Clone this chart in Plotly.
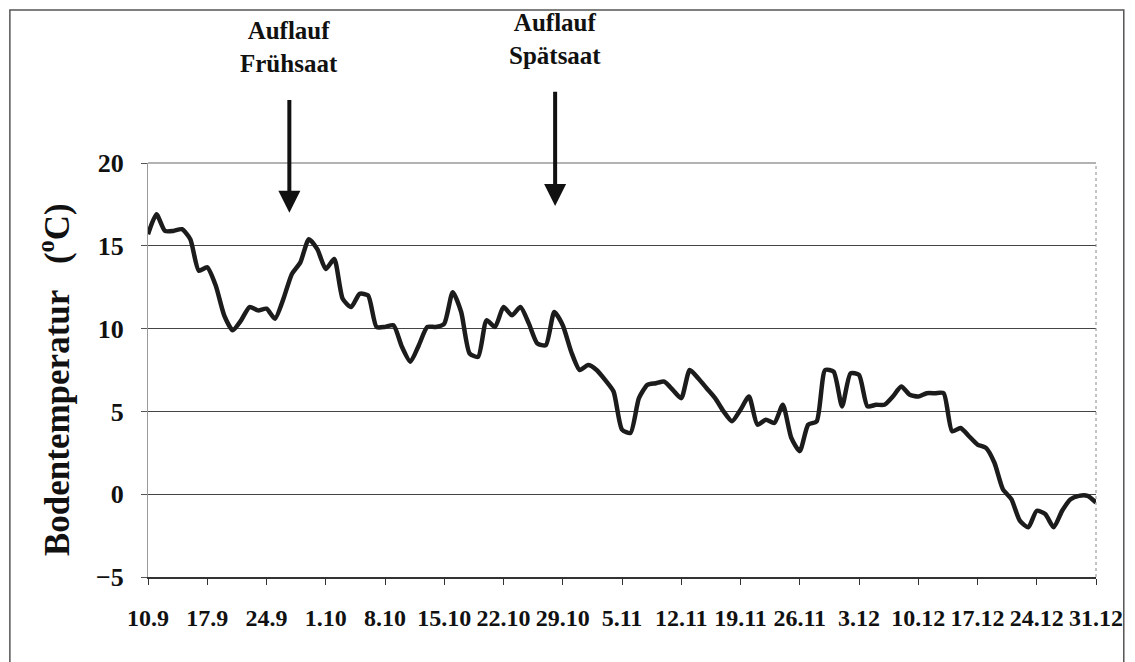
import plotly.graph_objects as go

# daily soil temperature, 10.9 .. 31.12 (113 days)
days = list(range(113))
temperature = [
    15.7, 16.9, 15.9, 15.9, 16.0, 15.4, 13.5, 13.7, 12.6, 10.8,
    9.9, 10.5, 11.3, 11.1, 11.2, 10.6, 11.8, 13.3, 14.0, 15.4,
    14.8, 13.6, 14.2, 11.8, 11.3, 12.1, 12.0, 10.1, 10.1, 10.2,
    8.9, 8.0, 9.0, 10.1, 10.1, 10.3, 12.2, 11.0, 8.5, 8.3,
    10.5, 10.1, 11.3, 10.8, 11.3, 10.3, 9.1, 9.0, 11.0, 10.2,
    8.6, 7.5, 7.8, 7.5, 6.9, 6.2, 3.9, 3.7, 5.8, 6.6,
    6.7, 6.8, 6.3, 5.8, 7.5, 7.0, 6.4, 5.8, 5.0, 4.4,
    5.1, 5.9, 4.2, 4.5, 4.3, 5.4, 3.4, 2.6, 4.2, 4.4,
    7.5, 7.4, 5.3, 7.3, 7.2, 5.3, 5.4, 5.4, 5.9, 6.5,
    6.0, 5.9, 6.1, 6.1, 6.1, 3.8, 4.0, 3.5, 3.0, 2.8,
    1.9, 0.3, -0.3, -1.6, -2.0, -1.0, -1.2, -2.0, -1.0, -0.3,
    -0.1, -0.1, -0.5,
]

tick_days = [0, 7, 14, 21, 28, 35, 42, 49, 56, 63, 70, 77, 84, 91, 98, 105, 112]
tick_labels = ['10.9', '17.9', '24.9', '1.10', '8.10', '15.10', '22.10', '29.10',
               '5.11', '12.11', '19.11', '26.11', '3.12', '10.12', '17.12', '24.12', '31.12']

# emergence events: (label, day, arrow tip temperature)
event_labels = ['Auflauf<br>Frühsaat', 'Auflauf<br>Spätsaat']
event_days = [16.7, 48.1]
event_tips = [17.0, 17.4]
event_tails = [23.9, 24.4]
event_text_y = [1.28, 1.30]

serif = 'Liberation Serif, Times New Roman, serif'

fig = go.Figure(
    data=[
        go.Scatter(x=days, y=temperature,
                   mode='lines',
                   line=dict(color='#1c1c1c', width=4.5, shape='spline', smoothing=0.6),
                   showlegend=False,
                   hoverinfo='skip')
    ],
    layout=go.Layout(
        xaxis=dict(range=[0, 112],
                   tickvals=tick_days,
                   ticktext=tick_labels,
                   tickangle=0,
                   ticks='outside',
                   ticklen=6,
                   tickcolor='#333',
                   ticklabelstandoff=12,
                   showgrid=False,
                   zeroline=False,
                   showline=True,
                   linewidth=1.5,
                   linecolor='#333',
                   mirror=False,
                   tickfont=dict(family=serif, size=24, color='#111', weight='bold')),
        yaxis=dict(range=[-5, 20],
                   tickvals=[-5, 0, 5, 10, 15, 20],
                   ticks='outside',
                   ticklen=6,
                   tickcolor='#555',
                   ticklabelstandoff=12,
                   showgrid=True,
                   gridcolor='#444',
                   gridwidth=1,
                   zeroline=False,
                   showline=True,
                   linewidth=1,
                   linecolor='#999',
                   tickfont=dict(family=serif, size=26, color='#111', weight='bold')),
        plot_bgcolor='white',
        paper_bgcolor='white',
        # page body has an 8px margin, so the figure is drawn a little smaller
        width=1127,
        height=654,
        margin={'l': 140, 'b': 85, 't': 155, 'r': 33},
    )
)

# right and top edges of the plot area
fig.add_shape(type='line', xref='paper', yref='paper', x0=1, x1=1, y0=0, y1=1,
              line=dict(color='#888', width=1, dash='dot'))
fig.add_shape(type='line', xref='paper', yref='paper', x0=0, x1=1, y0=1, y1=1,
              line=dict(color='#666', width=1))

# frame around the whole picture
fig.add_shape(type='rect', xref='paper', yref='paper',
              x0=-0.1457, x1=1.0293, y0=-0.23, y1=1.3696,
              line=dict(color='#555', width=1.5))

fig.add_annotation(xref='paper', yref='paper', x=-0.098, y=0.476,
                   xanchor='center', yanchor='middle',
                   text='Bodentemperatur   (<sup>o</sup>C)', textangle=-90,
                   showarrow=False,
                   font=dict(family=serif, size=35, color='#111', weight='bold'))

for label, d, tip, tail, ty in zip(event_labels, event_days, event_tips, event_tails, event_text_y):
    fig.add_annotation(x=d, y=tip, ax=d, ay=tail,
                       xref='x', yref='y', axref='x', ayref='y',
                       text='', showarrow=True,
                       arrowhead=2, arrowsize=1.1, arrowwidth=4, arrowcolor='#111')
    fig.add_annotation(x=d, y=ty, xref='x', yref='paper',
                       text=label, showarrow=False,
                       xanchor='center', yanchor='middle',
                       font=dict(family=serif, size=25, color='#111', weight='bold'))

fig.write_html("out.html")
